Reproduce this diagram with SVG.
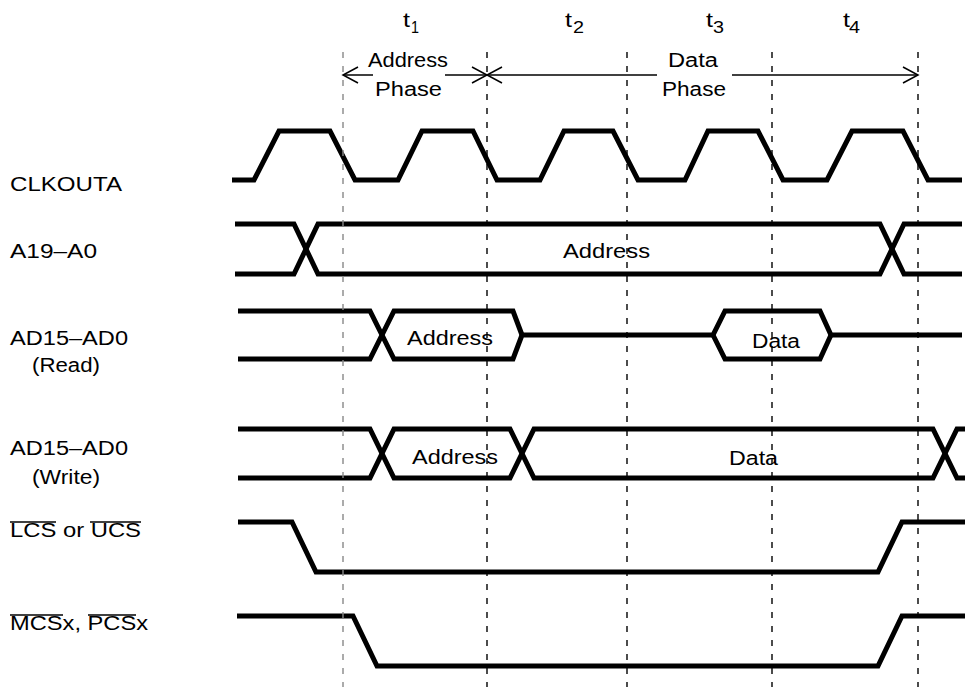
<svg xmlns="http://www.w3.org/2000/svg" width="965" height="687" viewBox="0 0 965 687">
<style>
.sig{fill:none;stroke:#000;stroke-width:5;stroke-linejoin:miter;stroke-miterlimit:4}
.grid{stroke:#000;stroke-width:1.4;stroke-dasharray:6 8;fill:none}
.arr{stroke:#000;stroke-width:1.5;fill:none}
.ovl{stroke:#000;stroke-width:1.5}
text{font-family:"Liberation Sans",Arial,Helvetica,sans-serif;font-size:20px;fill:#000}
.sub{font-size:16px}
.tt{font-size:21px}
</style>
<defs>
<marker id="head" markerUnits="userSpaceOnUse" viewBox="-16 -9 18 18" refX="0" refY="0" markerWidth="18" markerHeight="18" orient="auto-start-reverse">
<path d="M-15,-8 L0,0 L-15,8" fill="none" stroke="#000" stroke-width="1.5"/>
</marker>
</defs>
<rect width="965" height="687" fill="#fff"/>

<g id="labels">
<text x="10" y="191" textLength="112" lengthAdjust="spacingAndGlyphs">CLKOUTA</text>
<text x="10" y="258" textLength="87" lengthAdjust="spacingAndGlyphs">A19–A0</text>
<text x="10" y="345" textLength="118" lengthAdjust="spacingAndGlyphs">AD15–AD0</text>
<text x="32" y="372" textLength="68" lengthAdjust="spacingAndGlyphs">(Read)</text>
<text x="10" y="455" textLength="118" lengthAdjust="spacingAndGlyphs">AD15–AD0</text>
<text x="32" y="484" textLength="68" lengthAdjust="spacingAndGlyphs">(Write)</text>
<text x="10" y="537" textLength="131" lengthAdjust="spacingAndGlyphs">LCS or UCS</text>
<line class="ovl" x1="10" y1="522" x2="56" y2="522"/>
<line class="ovl" x1="90" y1="522" x2="141" y2="522"/>
<text x="10" y="630" textLength="138" lengthAdjust="spacingAndGlyphs">MCSx, PCSx</text>
<line class="ovl" x1="10" y1="615" x2="63" y2="615"/>
<line class="ovl" x1="88" y1="615" x2="136" y2="615"/>
</g>

<g id="time-labels">
<text class="tt" x="403" y="27" textLength="7" lengthAdjust="spacingAndGlyphs">t</text><text class="sub" x="411" y="33" textLength="8" lengthAdjust="spacingAndGlyphs">1</text>
<text class="tt" x="565" y="27" textLength="7" lengthAdjust="spacingAndGlyphs">t</text><text class="sub" x="573" y="33" textLength="11" lengthAdjust="spacingAndGlyphs">2</text>
<text class="tt" x="706" y="27" textLength="7" lengthAdjust="spacingAndGlyphs">t</text><text class="sub" x="713" y="33" textLength="11" lengthAdjust="spacingAndGlyphs">3</text>
<text class="tt" x="843" y="27" textLength="7" lengthAdjust="spacingAndGlyphs">t</text><text class="sub" x="849" y="33" textLength="11" lengthAdjust="spacingAndGlyphs">4</text>
</g>

<g id="phase-labels">
<text x="368" y="67" textLength="80" lengthAdjust="spacingAndGlyphs">Address</text>
<text x="375" y="96" textLength="67" lengthAdjust="spacingAndGlyphs">Phase</text>
<text x="668" y="67" textLength="50" lengthAdjust="spacingAndGlyphs">Data</text>
<text x="662" y="96" textLength="64" lengthAdjust="spacingAndGlyphs">Phase</text>
</g>

<g id="clkouta">
<path class="sig" d="M232,180 L254,180 L279,131 L330,131 L355,180 L398,180 L422,131 L473,131 L497,180 L540,180 L564,131 L613,131 L638,180 L685,180 L708,131 L758,131 L783,180 L827,180 L852,131 L903,131 L928,180 L962,180"/>
</g>

<g id="a19-a0">
<path class="sig" d="M235,224 L294,224 L318,274 L880,274 L904,224 L962,224"/>
<path class="sig" d="M235,274 L294,274 L318,224 L880,224 L904,274 L962,274"/>
<text x="563" y="258" textLength="87" lengthAdjust="spacingAndGlyphs">Address</text>
</g>

<g id="ad-read">
<path class="sig" d="M238,311 L370,311 L394,359 L513,359 L522,335 L713,335 L725,311 L820,311 L831,335 L962,335"/>
<path class="sig" d="M238,359 L370,359 L394,311 L513,311 L522,335"/>
<path class="sig" d="M713,335 L725,359 L820,359 L831,335"/>
<text x="407" y="345" textLength="86" lengthAdjust="spacingAndGlyphs">Address</text>
<text x="752" y="348" textLength="48" lengthAdjust="spacingAndGlyphs">Data</text>
</g>

<g id="ad-write">
<path class="sig" d="M238,429 L370,429 L394,478 L510,478 L534,429 L933,429 L957,478 L966,478"/>
<path class="sig" d="M238,478 L370,478 L394,429 L510,429 L534,478 L933,478 L957,429 L966,429"/>
<text x="412" y="464" textLength="86" lengthAdjust="spacingAndGlyphs">Address</text>
<text x="729" y="465" textLength="49" lengthAdjust="spacingAndGlyphs">Data</text>
</g>

<g id="lcs-ucs">
<path class="sig" d="M238,522 L292,522 L316,572 L878,572 L902,522 L966,522"/>
</g>

<g id="mcsx-pcsx">
<path class="sig" d="M237,616 L353,616 L377,666 L878,666 L902,616 L966,616"/>
</g>

<g id="connectors">
<line class="arr" x1="343" y1="75" x2="373" y2="75" marker-start="url(#head)"/>
<line class="arr" x1="445" y1="75" x2="487" y2="75" marker-end="url(#head)"/>
<line class="arr" x1="487" y1="75" x2="657" y2="75" marker-start="url(#head)"/>
<line class="arr" x1="732" y1="75" x2="918" y2="75" marker-end="url(#head)"/>
</g>

<g id="grid">
<line class="grid" x1="343" y1="52" x2="343" y2="687" style="stroke:#888"/>
<line class="grid" x1="487" y1="52" x2="487" y2="687"/>
<line class="grid" x1="627" y1="52" x2="627" y2="687"/>
<line class="grid" x1="772" y1="52" x2="772" y2="687"/>
<line class="grid" x1="918" y1="52" x2="918" y2="687"/>
</g>
</svg>
